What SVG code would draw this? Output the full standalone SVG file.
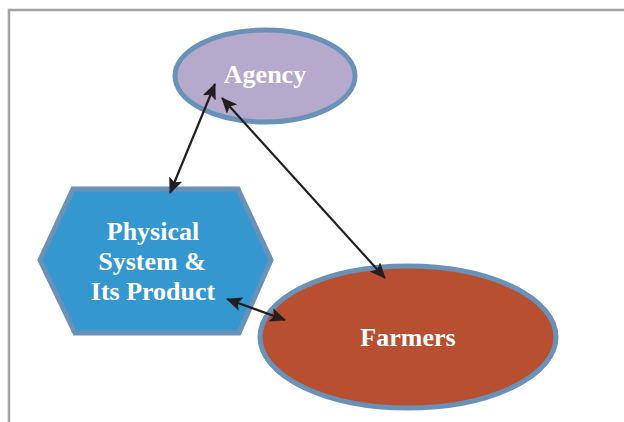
<svg xmlns="http://www.w3.org/2000/svg" width="624" height="422" viewBox="0 0 624 422">
  <style>
    .frame { fill: none; stroke: #a3a3a3; stroke-width: 2.5; }
    .node-shape { stroke: #6a92b8; stroke-width: 5; }
    .label { font-family: "Liberation Serif", "Times New Roman", serif; font-weight: bold; font-size: 26px; fill: #ffffff; text-anchor: middle; }
    .link { stroke: #231f20; stroke-width: 2.2; fill: none; marker-start: url(#head); marker-end: url(#head); }
  </style>
  <defs>
    <marker id="head" viewBox="0 0 16 14" refX="15" refY="7" markerWidth="16" markerHeight="14" markerUnits="userSpaceOnUse" orient="auto-start-reverse">
      <path d="M0,0 L16,7 L0,14 L3.5,7 Z" fill="#231f20"/>
    </marker>
  </defs>

  <rect width="624" height="422" fill="#ffffff"/>
  <!-- frame around the figure -->
  <path class="frame" d="M9,422 L9,10 L624,10"/>

  <g id="agency">
    <ellipse class="node-shape" cx="265" cy="76" rx="90" ry="46" fill="#b5a9cc"/>
    <text class="label" x="265" y="83">Agency</text>
  </g>

  <g id="physical-system">
    <polygon class="node-shape" points="73,189 238,189 271,260 239,333 75,333 40,260" fill="#3497d0"/>
    <text class="label" x="153" y="240">Physical</text>
    <text class="label" x="152" y="270">System &amp;</text>
    <text class="label" x="153" y="300">Its Product</text>
  </g>

  <g id="farmers">
    <ellipse class="node-shape" cx="408" cy="337" rx="148" ry="71" fill="#b84f30"/>
    <text class="label" x="408" y="346">Farmers</text>
  </g>

  <g id="connectors">
    <line class="link" x1="215" y1="84" x2="170" y2="193"/>
    <line class="link" x1="222" y1="98" x2="385" y2="278"/>
    <line class="link" x1="227" y1="299" x2="285" y2="320"/>
  </g>
</svg>
